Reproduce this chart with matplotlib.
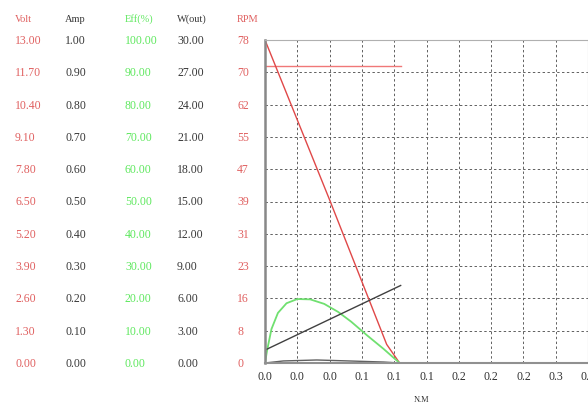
import numpy as np
import matplotlib
matplotlib.use("Agg")
import matplotlib.pyplot as plt

# left-hand scale table
volt_scale = ["13.00", "11.70", "10.40", "9.10", "7.80", "6.50", "5.20", "3.90", "2.60", "1.30", "0.00"]
amp_scale = ["1.00", "0.90", "0.80", "0.70", "0.60", "0.50", "0.40", "0.30", "0.20", "0.10", "0.00"]
eff_scale = ["100.00", "90.00", "80.00", "70.00", "60.00", "50.00", "40.00", "30.00", "20.00", "10.00", "0.00"]
wout_scale = ["30.00", "27.00", "24.00", "21.00", "18.00", "15.00", "12.00", "9.00", "6.00", "3.00", "0.00"]
rpm_scale = ["78", "70", "62", "55", "47", "39", "31", "23", "16", "8", "0"]
headers = ["Volt", "Amp", "Eff(%)", "W(out)", "RPM"]

# full-scale values used to normalise the curves
volt_max, amp_max, eff_max, w_max, rpm_max = 13.0, 1.0, 100.0, 30.0, 78.0

x_labels = ["0.0", "0.0", "0.0", "0.1", "0.1", "0.1", "0.2", "0.2", "0.2", "0.3", "0.3"]

# curves (torque in N.M)
rpm_torque = [0.0, 0.060, 0.113, 0.125]
rpm_vals = [78.0, 39.4, 4.5, 0.0]

volt_torque = [0.0, 0.126]
volt_vals = [11.95, 11.95]

amp_torque = [0.0, 0.126]
amp_vals = [0.04, 0.24]

eff_torque = [0.0, 0.002, 0.006, 0.012, 0.020, 0.030, 0.042, 0.055, 0.068, 0.080, 0.095, 0.110, 0.125]
eff_vals = [0.0, 4.0, 10.5, 15.5, 18.5, 19.8, 19.7, 18.3, 15.8, 12.8, 8.5, 4.4, 0.0]

w_torque = [0.0, 0.017, 0.048, 0.078, 0.110, 0.125]
w_vals = [0.0, 0.19, 0.28, 0.19, 0.09, 0.0]

red = "#e06060"
green = "#5ee85e"
dark = "#383838"
font = "Liberation Serif"

fig = plt.figure(figsize=(5.88, 4.07), dpi=100)
W, H = 588, 407
ax = fig.add_axes([265 / W, 1 - 363 / H, 323 / W, 323 / H])

ax.plot(volt_torque, np.array(volt_vals) / volt_max, color="#f07878", lw=1.0)
ax.plot(rpm_torque, np.array(rpm_vals) / rpm_max, color="#e04848", lw=1.0)
ax.plot(eff_torque, np.array(eff_vals) / eff_max, color="#70e070", lw=1.3)
ax.plot(amp_torque, np.array(amp_vals) / amp_max, color="#404040", lw=1.0)
ax.plot(w_torque, np.array(w_vals) / w_max, color="#606060", lw=1.0)

ax.set_xlim(0, 0.30)
ax.set_ylim(0, 1)
ax.set_xticks(np.arange(11) * 0.03)
ax.set_xticklabels(x_labels, fontsize=8.5, family=font, color="#303030")
ax.set_yticks(np.arange(11) / 10)
ax.set_yticklabels([])
ax.tick_params(length=0, pad=6)
ax.grid(True, color="#606060", linestyle=(0, (2.5, 2.5)), linewidth=0.7)
for s in ["top", "right"]:
    ax.spines[s].set_color("#b0b0b0")
ax.spines["bottom"].set_color("#909090")
ax.spines["left"].set_color("#888888")
ax.spines["left"].set_linewidth(1.8)
ax.spines["bottom"].set_linewidth(1.5)

ax.text(0.145, -0.115, "N.M", fontsize=6, family=font, color="#303030",
        ha="center", va="center", transform=ax.get_xaxis_transform())

# table of scales
col_x = [15, 65, 125, 177, 237]
col_colors = [red, dark, green, dark, red]
columns = [volt_scale, amp_scale, eff_scale, wout_scale, rpm_scale]
row_y = 41 + np.arange(11) * 32.3
for cx, colr, hdr, vals in zip(col_x, col_colors, headers, columns):
    fig.text(cx / W, 1 - 19 / H, hdr, fontsize=7.5, family=font, color=colr,
             ha="left", va="center")
    for ry, v in zip(row_y, vals):
        fig.text(cx / W, 1 - ry / H, v, fontsize=8.5, family=font, color=colr,
                 ha="left", va="center")

fig.savefig("out.png", dpi=100)
